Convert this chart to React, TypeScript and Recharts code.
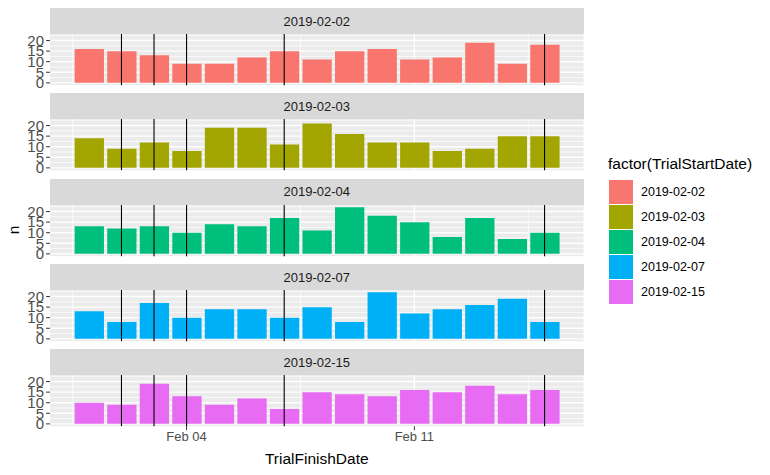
import React from 'react'
import { BarChart, Bar, XAxis, YAxis, CartesianGrid, ReferenceLine } from 'recharts'

// ── Data ──────────────────────────────────────────────────────────────────────

const finishDates = [
  '2019-02-01', '2019-02-02', '2019-02-03', '2019-02-04', '2019-02-05',
  '2019-02-06', '2019-02-07', '2019-02-08', '2019-02-09', '2019-02-10',
  '2019-02-11', '2019-02-12', '2019-02-13', '2019-02-14', '2019-02-15',
]

const startDates = ['2019-02-02', '2019-02-03', '2019-02-04', '2019-02-07', '2019-02-15']

const countsFeb02 = [16, 15, 13, 9, 9, 12, 15, 11, 15, 16, 11, 12, 19, 9, 18]
const countsFeb03 = [14, 9, 12, 8, 19, 19, 11, 21, 16, 12, 12, 8, 9, 15, 15]
const countsFeb04 = [13, 12, 13, 10, 14, 13, 17, 11, 22, 18, 15, 8, 17, 7, 10]
const countsFeb07 = [13, 8, 17, 10, 14, 14, 10, 15, 8, 22, 12, 14, 16, 19, 8]
const countsFeb15 = [10, 9, 19, 13, 9, 12, 7, 15, 14, 13, 16, 15, 18, 14, 16]

const facetCounts = [countsFeb02, countsFeb03, countsFeb04, countsFeb07, countsFeb15]
const facetColors = ['#F8766D', '#A3A500', '#00BF7D', '#00B0F6', '#E76BF3']

const yTicks = [0, 5, 10, 15, 20]
const yMinor = [2.5, 7.5, 12.5, 17.5, 22.5]
const xTickDates = ['2019-02-04', '2019-02-11']
const xTickLabels = ['Feb 04', 'Feb 11']
const xMinor = [0.5, 7.5, 14.5]

// ── Layout ────────────────────────────────────────────────────────────────────

const FONT = '"Liberation Sans", Arial, Helvetica, sans-serif'
const PANEL_LEFT = 50
const PANEL_RIGHT = 583.5
const PANEL_H = 51.2
const STRIP_H = 26
const FACET_STEP = 85.3
const FIRST_PANEL_TOP = 34.1
const X_AXIS_H = 22
const PAD_TOP = 6
const PAD_BOTTOM = 8
const X_DOMAIN: [number, number] = [-0.195, 16.195]
const Y_DOMAIN: [number, number] = [-1.1, 23.1]

const dayOf = (iso: string) => Number(iso.slice(8))
const xTickDays = xTickDates.map(dayOf)

const xTickText = { fill: '#4D4D4D', fontSize: 13, fontFamily: FONT }
const yTickText = { fill: '#4D4D4D', fontSize: 15, fontFamily: FONT }

function Facet({ index }: { index: number }) {
  const data = finishDates.map((d, i) => ({ day: dayOf(d), n: facetCounts[index][i] }))
  const isLast = index === startDates.length - 1
  const top = FIRST_PANEL_TOP + FACET_STEP * index

  return (
    <>
      <div
        style={{
          position: 'absolute', left: PANEL_LEFT, top: top - STRIP_H,
          width: PANEL_RIGHT - PANEL_LEFT, height: STRIP_H, background: '#D9D9D9',
          display: 'flex', alignItems: 'center', justifyContent: 'center',
          fontSize: 13, color: '#1A1A1A',
        }}
      >
        {startDates[index]}
      </div>
      <div style={{ position: 'absolute', left: 0, top: top - PAD_TOP }}>
        <BarChart
          width={PANEL_RIGHT}
          height={PANEL_H + PAD_TOP + PAD_BOTTOM + (isLast ? X_AXIS_H : 0)}
          data={data}
          margin={{ top: PAD_TOP, right: 0, bottom: PAD_BOTTOM, left: 0 }}
        >
          <CartesianGrid
            horizontalValues={yMinor}
            verticalValues={xMinor}
            stroke="#FFFFFF"
            strokeWidth={0.7}
            fill="#EBEBEB"
            fillOpacity={1}
          />
          <CartesianGrid horizontalValues={yTicks} verticalValues={xTickDays} stroke="#FFFFFF" strokeWidth={1.4} />
          <XAxis
            type="number"
            dataKey="day"
            domain={X_DOMAIN}
            allowDataOverflow
            ticks={xTickDays}
            interval={0}
            hide={!isLast}
            height={X_AXIS_H}
            axisLine={false}
            tickLine={{ stroke: '#333333' }}
            tickSize={4}
            tickMargin={2}
            tick={xTickText}
            tickFormatter={(v: number) => xTickLabels[xTickDays.indexOf(v)] ?? ''}
          />
          <YAxis
            type="number"
            domain={Y_DOMAIN}
            allowDataOverflow
            ticks={yTicks}
            interval={0}
            width={PANEL_LEFT}
            axisLine={false}
            tickLine={{ stroke: '#333333' }}
            tickSize={4}
            tickMargin={2}
            tick={yTickText}
          />
          <Bar dataKey="n" fill={facetColors[index]} barSize={29.3} isAnimationActive={false} />
          {startDates.map((s) => (
            <ReferenceLine key={s} x={dayOf(s)} stroke="#000000" strokeWidth={1.1} />
          ))}
        </BarChart>
      </div>
    </>
  )
}

export default function App() {
  const panelsBottom = FIRST_PANEL_TOP + FACET_STEP * (startDates.length - 1) + PANEL_H
  return (
    <div
      style={{
        position: 'absolute', left: 0, top: 0, width: 770, height: 475,
        background: '#FFFFFF', fontFamily: FONT, overflow: 'hidden',
      }}
    >
      {startDates.map((s, i) => <Facet key={s} index={i} />)}

      {/* y axis title */}
      <div
        style={{
          position: 'absolute', left: 14, top: (FIRST_PANEL_TOP + panelsBottom) / 2,
          transform: 'translate(-50%, -50%) rotate(-90deg)', fontSize: 15.5, color: '#000',
        }}
      >
        n
      </div>

      {/* x axis title */}
      <div
        style={{
          position: 'absolute', left: (PANEL_LEFT + PANEL_RIGHT) / 2, top: 459,
          transform: 'translate(-50%, -50%)', fontSize: 15.5, color: '#000', whiteSpace: 'nowrap',
        }}
      >
        TrialFinishDate
      </div>

      {/* legend */}
      <div style={{ position: 'absolute', left: 608, top: 155, fontSize: 15.5, color: '#000', whiteSpace: 'nowrap' }}>
        factor(TrialStartDate)
      </div>
      {startDates.map((s, i) => (
        <div key={s} style={{ position: 'absolute', left: 609, top: 180 + i * 25, display: 'flex', alignItems: 'center' }}>
          <div style={{ width: 24, height: 24, background: facetColors[i] }} />
          <span style={{ marginLeft: 8, fontSize: 12.5, color: '#000' }}>{s}</span>
        </div>
      ))}
    </div>
  )
}
